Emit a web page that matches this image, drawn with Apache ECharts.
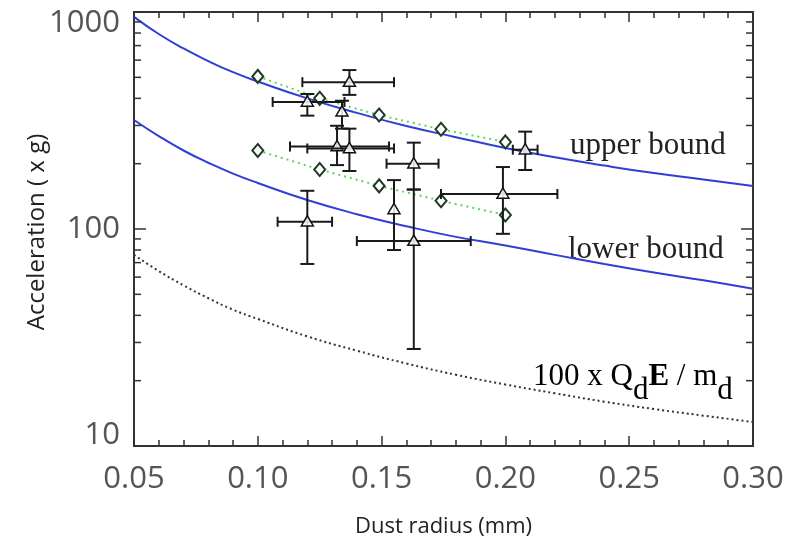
<!DOCTYPE html>
<html>
<head>
<meta charset="utf-8">
<title>Dust acceleration</title>
<script src="https://cdn.jsdelivr.net/npm/echarts@6/dist/echarts.min.js"></script>
<style>
  html, body { margin: 0; padding: 0; background: #fff; }
  #main { width: 789px; height: 543px; }
</style>
</head>
<body>
<div id="main"></div>
<script>
// radius samples for the three curves (mm)
var curveR = [0.05, 0.06, 0.07, 0.08, 0.09, 0.10, 0.12, 0.14, 0.16, 0.18, 0.20, 0.22, 0.24, 0.26, 0.28, 0.30];
var upperBound = [950, 792, 679, 594, 528, 478, 400, 343, 298, 265, 236, 214, 196, 181, 169, 158];
var lowerBound = [318, 268, 230, 202, 180, 163, 136, 117, 103, 92, 84, 76, 69, 63, 58, 53];
var qeOverM = [76, 64, 55, 48, 42.5, 38.5, 32, 27.5, 24, 21.3, 19.2, 17.5, 16, 14.8, 13.8, 12.9];

// open diamonds joined by green dotted lines
var diamondR = [0.100, 0.125, 0.149, 0.174, 0.200];
var diamondUpper = [505, 400, 335, 288, 252];
var diamondLower = [230, 188, 158, 135, 116];

// measured points (triangles) with error bars
var ptR     = [0.137, 0.120, 0.134, 0.132, 0.137, 0.163, 0.163, 0.155, 0.199, 0.208, 0.120];
var ptAcc   = [475,   385,   347,   240,   235,   200,   88,    123,   145,   232,   108];
var ptRLo   = [0.118, 0.106, 0.134, 0.113, 0.120, 0.152, 0.140, 0.155, 0.174, 0.203, 0.108];
var ptRHi   = [0.155, 0.135, 0.134, 0.153, 0.155, 0.173, 0.186, 0.155, 0.221, 0.213, 0.130];
var ptAccLo = [415,   333,   290,   197,   185,   152,   28,    80,    95,    187,   69];
var ptAccHi = [540,   419,   390,   299,   290,   250,   152,   168,   193,   281,   150];

// log minor ticks
var minorLogTicks = [20, 30, 40, 50, 60, 70, 80, 90, 200, 300, 400, 500, 600, 700, 800, 900];

var chart = echarts.init(document.getElementById('main'));

function pairs(xs, ys) {
  return xs.map(function (x, i) { return [x, ys[i]]; });
}

var frame = { lineStyle: { color: '#333', width: 2 } };
var labelFont = { fontFamily: 'Open Sans', fontSize: 31, color: '#555' };

var points = ptR.map(function (r, i) {
  return [r, ptAcc[i], ptRLo[i], ptRHi[i], ptAccLo[i], ptAccHi[i]];
});

function renderPoint(params, api) {
  var p = api.coord([api.value(0), api.value(1)]);
  var l = api.coord([api.value(2), api.value(1)]);
  var r = api.coord([api.value(3), api.value(1)]);
  var b = api.coord([api.value(0), api.value(4)]);
  var t = api.coord([api.value(0), api.value(5)]);
  var st = { stroke: '#1a1a1a', lineWidth: 2, fill: null };
  var cap = 7, hcap = 5, s = 6;
  var kids = [
    { type: 'line', shape: { x1: p[0], y1: t[1], x2: p[0], y2: b[1] }, style: st },
    { type: 'line', shape: { x1: p[0] - cap, y1: t[1], x2: p[0] + cap, y2: t[1] }, style: st },
    { type: 'line', shape: { x1: p[0] - cap, y1: b[1], x2: p[0] + cap, y2: b[1] }, style: st }
  ];
  if (r[0] - l[0] > 4) {
    kids.push({ type: 'line', shape: { x1: l[0], y1: p[1], x2: r[0], y2: p[1] }, style: st });
    kids.push({ type: 'line', shape: { x1: l[0], y1: p[1] - hcap, x2: l[0], y2: p[1] + hcap }, style: st });
    kids.push({ type: 'line', shape: { x1: r[0], y1: p[1] - hcap, x2: r[0], y2: p[1] + hcap }, style: st });
  }
  kids.push({
    type: 'polygon',
    shape: { points: [[p[0], p[1] - s], [p[0] - s, p[1] + s * 0.7], [p[0] + s, p[1] + s * 0.7]] },
    style: { stroke: '#111', lineWidth: 1.5, fill: 'rgba(255,255,255,0.85)' }
  });
  return { type: 'group', children: kids };
}

function renderLogTick(params, api) {
  var a = api.coord([0.05, api.value(1)]);
  var b = api.coord([0.30, api.value(1)]);
  var st = { stroke: '#333', lineWidth: 1.5 };
  return {
    type: 'group',
    children: [
      { type: 'line', shape: { x1: a[0], y1: a[1], x2: a[0] + 7, y2: a[1] }, style: st },
      { type: 'line', shape: { x1: b[0], y1: b[1], x2: b[0] - 7, y2: b[1] }, style: st }
    ]
  };
}

var boundLine = { color: '#2f3fd6', width: 2 };
var serifText = { fontFamily: 'Liberation Serif', fontSize: 31, color: '#222' };

chart.setOption({
  backgroundColor: '#fff',
  animation: false,
  grid: { left: 134, right: 36, top: 12, bottom: 92 },
  xAxis: [{
    type: 'value', position: 'bottom', min: 0.05, max: 0.30, interval: 0.05,
    name: 'Dust radius (mm)', nameLocation: 'middle', nameGap: 70,
    nameTextStyle: { fontFamily: 'Open Sans', fontSize: 22, color: '#222' },
    axisLine: frame,
    axisTick: { inside: true, length: 10, lineStyle: { color: '#333', width: 1.5 } },
    minorTick: { show: true, splitNumber: 5, length: 6, lineStyle: { color: '#333', width: 1.5 } },
    axisLabel: Object.assign({ margin: 18, formatter: function (v) { return v.toFixed(2); } }, labelFont),
    splitLine: { show: false }
  }, {
    type: 'value', position: 'top', min: 0.05, max: 0.30, interval: 0.05,
    axisLine: frame,
    axisTick: { inside: true, length: 10, lineStyle: { color: '#333', width: 1.5 } },
    minorTick: { show: true, splitNumber: 5, length: 6, lineStyle: { color: '#333', width: 1.5 } },
    axisLabel: { show: false },
    splitLine: { show: false }
  }],
  yAxis: [{
    type: 'log', logBase: 10, min: 10, max: 1000, position: 'left',
    axisLine: frame,
    axisTick: { inside: true, length: 12, lineStyle: { color: '#333', width: 1.5 } },
    axisLabel: Object.assign({
      margin: 14, lineHeight: 22,
      verticalAlignMaxLabel: 'top', verticalAlignMinLabel: 'bottom',
      formatter: function (v) { return String(Math.round(v)); }
    }, labelFont),
    splitLine: { show: false }
  }, {
    type: 'log', logBase: 10, min: 10, max: 1000, position: 'right',
    axisLine: frame,
    axisTick: { inside: true, length: 12, lineStyle: { color: '#333', width: 1.5 } },
    axisLabel: { show: false },
    splitLine: { show: false }
  }],
  graphic: [
    { type: 'text', x: 37, y: 232, rotation: Math.PI / 2,
      style: { text: 'Acceleration ( x g)', font: '24px "Open Sans"', fill: '#222',
               textAlign: 'center', textVerticalAlign: 'middle' } },
    { type: 'text', x: 570, y: 146,
      style: { text: 'upper bound', font: '31px "Liberation Serif"', fill: '#222', textVerticalAlign: 'middle' } },
    { type: 'text', x: 568, y: 250,
      style: { text: 'lower bound', font: '31px "Liberation Serif"', fill: '#222', textVerticalAlign: 'middle' } },
    { type: 'text', x: 533, y: 361,
      style: {
        text: '{n|100 x Q}{s|d}{b|E}{n| / m}{s|d}',
        rich: {
          n: Object.assign({ lineHeight: 34, verticalAlign: 'top' }, serifText),
          b: Object.assign({ lineHeight: 34, verticalAlign: 'top', fontWeight: 'bold' }, serifText),
          s: Object.assign({ lineHeight: 34, verticalAlign: 'top', padding: [14, 0, 0, 0] }, serifText)
        }
      } }
  ],
  series: [
    { type: 'custom', renderItem: renderLogTick, data: minorLogTicks.map(function (v) { return [0.05, v]; }),
      silent: true, clip: false, z: 5 },
    { type: 'line', data: pairs(curveR, upperBound), showSymbol: false, smooth: true, lineStyle: boundLine },
    { type: 'line', data: pairs(curveR, lowerBound), showSymbol: false, smooth: true, lineStyle: boundLine },
    { type: 'line', data: pairs(curveR, qeOverM), showSymbol: false, smooth: true,
      lineStyle: { color: '#333', width: 2, type: [2, 3] } },
    { type: 'line', data: pairs(diamondR, diamondUpper), symbol: 'emptyDiamond', symbolSize: [11, 13],
      itemStyle: { color: '#1f3a1f', borderWidth: 1.8 },
      lineStyle: { color: '#5fd35f', width: 2, type: [2, 4] }, z: 3 },
    { type: 'line', data: pairs(diamondR, diamondLower), symbol: 'emptyDiamond', symbolSize: [11, 13],
      itemStyle: { color: '#1f3a1f', borderWidth: 1.8 },
      lineStyle: { color: '#5fd35f', width: 2, type: [2, 4] }, z: 3 },
    { type: 'custom', renderItem: renderPoint, data: points,
      encode: { x: [0, 2, 3], y: [1, 4, 5] }, z: 4 }
  ]
});
</script>
</body>
</html>
